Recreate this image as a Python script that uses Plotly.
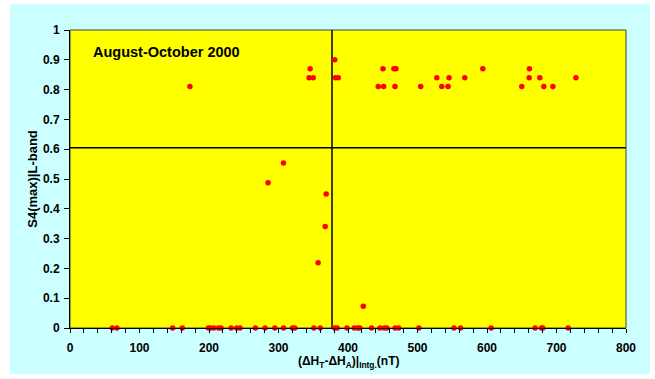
import plotly.graph_objects as go

# ---- data ----
x_high = [172.6, 345.5, 344, 350, 381, 382, 386, 450.3, 466, 469, 443.5, 451.3, 467.6,
          504.6, 527.7, 534.9, 545.4, 544, 568, 594, 650, 661, 660.7, 676, 681.8, 694.8, 728]
s4_high = [0.81, 0.87, 0.84, 0.84, 0.90, 0.84, 0.84, 0.87, 0.87, 0.87, 0.81, 0.81, 0.81,
           0.81, 0.84, 0.81, 0.84, 0.81, 0.84, 0.87, 0.81, 0.87, 0.84, 0.84, 0.81, 0.81, 0.84]

x_mid = [285, 307.2, 368.6, 367.2, 357, 422]
s4_mid = [0.487, 0.554, 0.45, 0.341, 0.219, 0.073]

x_zero = [60.8, 67.5, 147.7, 161.6, 199.1, 202, 206.8, 213.5, 217.3, 231.8, 239.9, 244.7,
          266.8, 280.7, 294.7, 307.2, 320.1, 323.5, 350.9, 360, 380.8, 384.5, 398.6, 409,
          413.8, 417, 433.8, 446, 452, 456, 467.8, 472.9, 502, 552.5, 562, 606, 669.2,
          678.4, 680.2, 716.8]
s4_zero = [0.0] * len(x_zero)

x_threshold = 377      # vertical reference line
s4_threshold = 0.605   # horizontal reference line

x_ticks = [0, 100, 200, 300, 400, 500, 600, 700, 800]
y_ticks = [0, 0.1, 0.2, 0.3, 0.4, 0.5, 0.6, 0.7, 0.8, 0.9, 1]

xs = x_high + x_mid + x_zero
ys = s4_high + s4_mid + s4_zero

FONT = "Liberation Sans, Arial, sans-serif"

fig = go.Figure()
fig.add_trace(go.Scatter(
    x=xs, y=ys, mode="markers",
    marker=dict(color="#FF0000", size=5.5, line=dict(width=0)),
    cliponaxis=False, showlegend=False, hoverinfo="skip",
))

# reference lines
fig.add_shape(type="line", xref="x", yref="y", x0=0, x1=800, y0=s4_threshold, y1=s4_threshold,
              line=dict(color="black", width=1.5), layer="below")
fig.add_shape(type="line", xref="x", yref="y", x0=x_threshold, x1=x_threshold, y0=0, y1=1,
              line=dict(color="black", width=1.5), layer="below")
# plot frame
fig.add_shape(type="rect", xref="paper", yref="paper", x0=0, x1=1, y0=0, y1=1,
              line=dict(color="#404040", width=1), fillcolor="rgba(0,0,0,0)", layer="below")

fig.add_annotation(text="August-October 2000", x=30, y=0.926, xref="x", yref="y",
                   xanchor="left", yanchor="middle", showarrow=False,
                   font=dict(family=FONT, size=14.5, color="black", weight="bold"))

# x-axis title as annotation for exact placement
fig.add_annotation(text="(ΔH<sub>T</sub>-ΔH<sub>A</sub>)|<sub>Intg.</sub>(nT)",
                   x=0.5, y=-0.115, xref="paper", yref="paper",
                   xanchor="center", yanchor="middle", showarrow=False,
                   font=dict(family=FONT, size=12, color="black", weight="bold"))

fig.update_xaxes(range=[0, 800], tickvals=x_ticks, ticks="outside", ticklen=4, tickwidth=1,
                 tickcolor="black", showgrid=False, zeroline=False, showline=True,
                 linecolor="black", linewidth=1, automargin=False, ticklabelstandoff=5,
                 minor=dict(dtick=20, tick0=0, ticks="outside", ticklen=4, tickcolor="black", showgrid=False),
                 tickfont=dict(family=FONT, size=12, color="black", weight="bold"))
fig.update_yaxes(range=[0, 1], tickvals=y_ticks, ticks="outside", ticklen=5, tickwidth=1,
                 tickcolor="black", showgrid=False, zeroline=False, showline=True,
                 linecolor="black", linewidth=1, automargin=False, ticklabelstandoff=2,
                 tickfont=dict(family=FONT, size=12, color="black", weight="bold"),
                 title=dict(text="S4(max)|L-band", standoff=2,
                            font=dict(family=FONT, size=13, color="black", weight="bold")))

# cyan panel 640x370 placed at (10, 4) inside a white 655x379 page
fig.update_layout(width=640, height=370,
                  margin=dict(l=60, r=24, t=26, b=46, autoexpand=False),
                  paper_bgcolor="#CCFFFF", plot_bgcolor="#FFFF00",
                  showlegend=False, hovermode=False)

fig.write_html("out.html", config={"displayModeBar": False},
               post_script="document.body.style.margin='0';"
                           "document.body.style.padding='4px 0 0 10px';"
                           "document.body.style.background='white';")
